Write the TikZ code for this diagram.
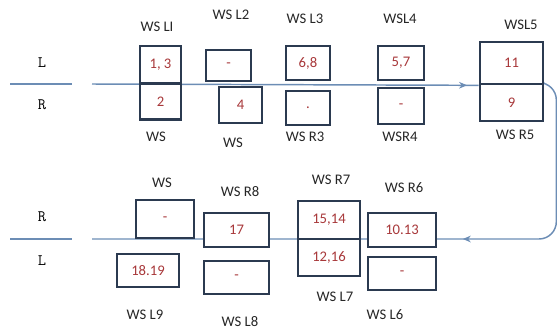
\documentclass[tikz,border=0pt]{standalone}
\usepackage{fontspec}
\setmainfont{Carlito}
\usetikzlibrary{positioning,decorations.markings,backgrounds,arrows.meta}

\definecolor{boxblue}{HTML}{2B3A50}
\definecolor{lineblue}{HTML}{6C8DB5}
\definecolor{numred}{HTML}{A8383A}

\begin{document}
\begin{tikzpicture}[x=0.75pt, y=-0.75pt, >=stealth, thick]
        \tikzset{
            wsbox/.style={draw=boxblue, line width=2pt, fill=white, rectangle, inner sep=0pt, text=numred, font=\fontsize{11}{12}\selectfont},
            sz/.style 2 args={minimum width=#1*0.75pt, minimum height=#2*0.75pt},
            lbl/.style={font=\fontsize{11}{12}\selectfont, text=black!85},
            side/.style={font=\ttfamily\fontsize{12}{13}\selectfont},
            flow/.style={draw=lineblue, line width=1.1pt},
            arrowmark/.style={postaction={decorate}, decoration={markings, mark=at position #1 with {\arrow{Stealth[length=6pt, width=5pt, color=lineblue]}}}}
        }
        \useasboundingbox (0,0) rectangle (557,329);
        
        % Top row (L above, R below)
        \node [side] (topL) at (42,63) {L};
        \node [side] (topR) at (42,105) {R};
        \coordinate (tsepA) at (10,84);
        \coordinate (tsepB) at (72,84);
        \coordinate (topstart) at (92,84);
        
        \node [wsbox, sz={41}{37}] (L1) at (160.5,64.5) {1, 3};
        \node [wsbox, sz={41}{36}] (R1) at (160.5,101.5) {2};
        \node [wsbox, sz={45}{31}] (L2) at (228.5,65.5) {-};
        \node [wsbox, sz={43}{36}] (R2) at (240.5,105) {4};
        \node [wsbox, sz={44}{34}] (L3) at (308,63) {6,8};
        \node [wsbox, sz={44}{34}] (R3) at (308,108) {.};
        \node [wsbox, sz={46}{34}] (L4) at (401,63) {5,7};
        \node [wsbox, sz={46}{36}] (R4) at (401,106) {-};
        \node [wsbox, sz={63}{42}] (L5) at (511.5,63) {11};
        \node [wsbox, sz={63}{37}] (R5) at (511.5,102.5) {9};
        
        \node [lbl] (lblL1) at (157,27) {WS LI};
        \node [lbl] (lblL2) at (231,15) {WS L2};
        \node [lbl] (lblL3) at (305,19) {WS L3};
        \node [lbl] (lblL4) at (400,19) {WSL4};
        \node [lbl] (lblL5) at (521,25) {WSL5};
        \node [lbl] (lblR1) at (156,137) {WS};
        \node [lbl] (lblR2) at (233,143) {WS};
        \node [lbl] (lblR3) at (305,137) {WS R3};
        \node [lbl] (lblR4) at (400,137) {WSR4};
        \node [lbl] (lblR5) at (515,135) {WS R5};
        
        % Bottom row (R above, L below)
        \node [side] (botR) at (42,217) {R};
        \node [side] (botL) at (42,261) {L};
        \coordinate (bsepA) at (10,239);
        \coordinate (bsepB) at (72,239);
        \coordinate (botend) at (92,239);
        
        \node [wsbox, sz={58}{38}] (R9) at (165,219) {-};
        \node [wsbox, sz={62}{33}] (L9) at (148,270.5) {18.19};
        \node [wsbox, sz={65}{34}] (R8) at (236.5,230) {17};
        \node [wsbox, sz={65}{33}] (L8) at (236.5,277.5) {-};
        \node [wsbox, sz={62}{38}] (R7) at (329,220) {15,14};
        \node [wsbox, sz={62}{37}] (L7) at (329,257.5) {12,16};
        \node [wsbox, sz={68}{34}] (R6) at (402,230) {10.13};
        \node [wsbox, sz={68}{33}] (L6) at (402,273.5) {-};
        
        \node [lbl] (lblR9) at (162,183) {WS};
        \node [lbl] (lblR8) at (240,192) {WS R8};
        \node [lbl] (lblR7) at (331,180) {WS R7};
        \node [lbl] (lblR6) at (404,188) {WS R6};
        \node [lbl] (lblL9) at (145,315) {WS L9};
        \node [lbl] (lblL8) at (240,322) {WS L8};
        \node [lbl] (lblL7) at (335,297) {WS L7};
        \node [lbl] (lblL6) at (385,315) {WS L6};
        
        % Flow lines behind the boxes
        \begin{pgfonlayer}{background}
            \draw [flow] (tsepA) -- (tsepB);
            \draw [flow] (bsepA) -- (bsepB);
            \draw [flow, arrowmark=0.97] (topstart) -- (L5.south west);
            \draw [flow, rounded corners=13pt, arrowmark=0.41] (R5.north east) -- ++(12,0) |- (botend);
        \end{pgfonlayer}
        
    \end{tikzpicture}
\end{document}
